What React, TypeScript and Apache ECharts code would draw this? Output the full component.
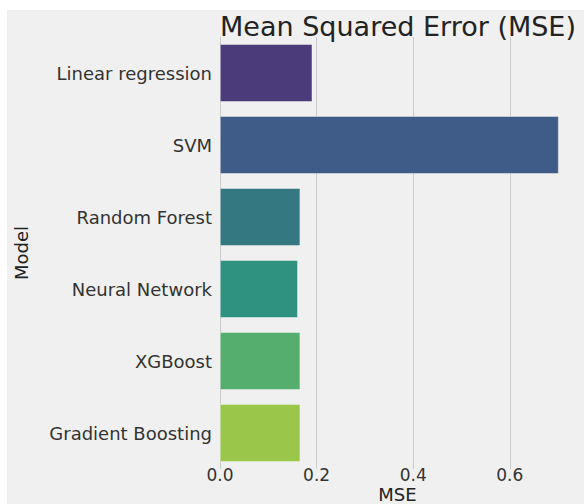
import React, { useEffect, useRef } from "react";
import * as echarts from "echarts";

const models = ["Linear regression", "SVM", "Random Forest", "Neural Network", "XGBoost", "Gradient Boosting"];
const mseValues = [0.191, 0.701, 0.166, 0.161, 0.166, 0.166];
const barColors = ["#4b3b7b", "#3f5b87", "#347882", "#2f9280", "#56ae6e", "#9ac64a"];
const xTicks = [0, 0.2, 0.4, 0.6];

export default function App() {
  const ref = useRef<HTMLDivElement>(null);
  useEffect(() => {
    document.body.style.margin = "0";
    const chart = echarts.init(ref.current!, null, { renderer: "svg" });
    const font = "DejaVu Sans";
    chart.setOption({
      animation: false,
      backgroundColor: "#ffffff",
      graphic: [
        { type: "rect", z: -10, shape: { x: 7, y: 10, width: 584, height: 504 }, style: { fill: "#f0f0f0" } },
      ],
      title: {
        text: "Mean Squared Error (MSE)",
        left: 393,
        top: 8,
        textAlign: "center",
        textStyle: { fontFamily: font, fontSize: 27, fontWeight: "normal", color: "#222" },
      },
      grid: { left: 220, right: 9, top: 37, bottom: 35, containLabel: false, outerBoundsMode: "none" },
      xAxis: {
        type: "value",
        min: 0,
        max: 0.735,
        interval: 0.2,
        name: "MSE",
        nameLocation: "middle",
        nameGap: 17,
        nameMoveOverlap: false,
        nameTextStyle: { fontFamily: font, fontSize: 18, lineHeight: 16, color: "#222", verticalAlign: "top" },
        axisLine: { show: false },
        axisTick: { show: false },
        axisLabel: {
          fontFamily: font,
          fontSize: 17,
          lineHeight: 14,
          color: "#333",
          margin: -1,
          showMaxLabel: false,
          formatter: (v: number) => (xTicks.some((t) => Math.abs(t - v) < 1e-9) ? v.toFixed(1) : ""),
        },
        splitLine: { show: true, showMaxLine: false, lineStyle: { color: "#cbcbcb", width: 1 } },
      },
      yAxis: {
        type: "category",
        data: models,
        inverse: true,
        name: "Model",
        nameLocation: "middle",
        nameGap: 190,
        nameRotate: 90,
        nameMoveOverlap: false,
        nameTextStyle: { fontFamily: font, fontSize: 18, color: "#222" },
        axisLine: { show: false },
        axisTick: { show: false },
        axisLabel: { fontFamily: font, fontSize: 18, color: "#333", margin: 8 },
        splitLine: { show: false },
      },
      series: [
        {
          type: "bar",
          barCategoryGap: "20%",
          data: mseValues.map((v, i) => ({ value: v, itemStyle: { color: barColors[i] } })),
          itemStyle: { borderColor: "#f0f0f0", borderWidth: 0.5 },
        },
      ],
    });
    return () => chart.dispose();
  }, []);
  return <div ref={ref} style={{ width: 584, height: 504 }} />;
}
